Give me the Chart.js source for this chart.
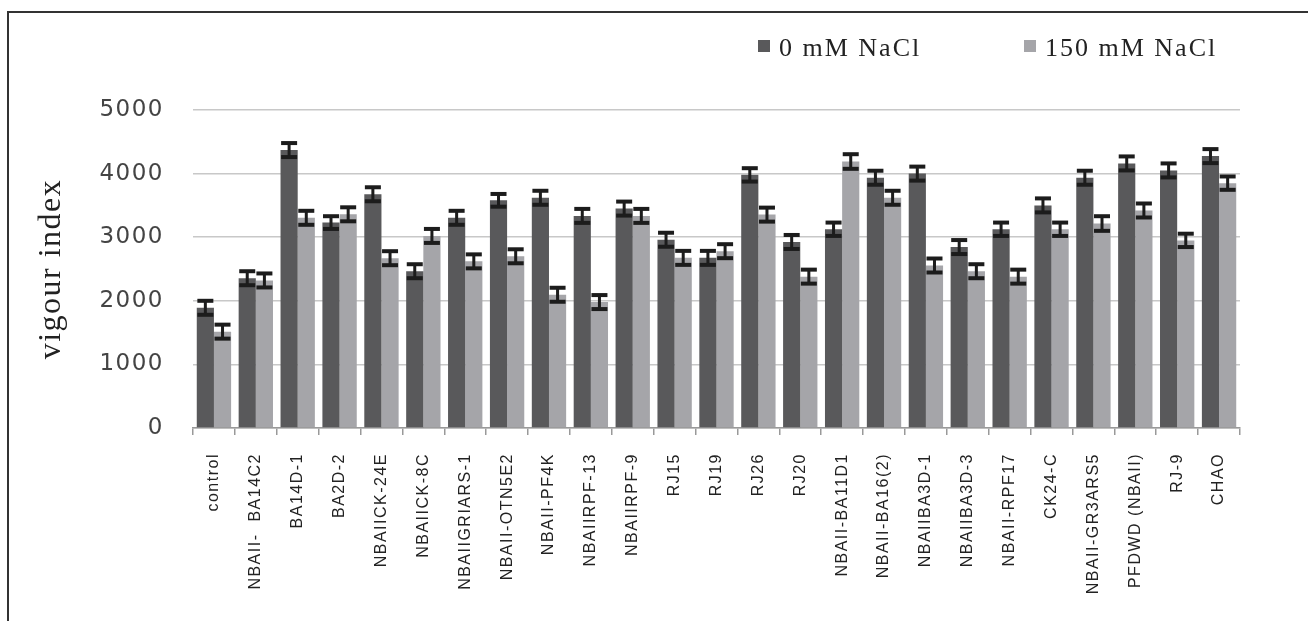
<!DOCTYPE html>
<html>
<head>
<meta charset="utf-8">
<script src="https://cdn.jsdelivr.net/npm/chart.js@4"></script>
<style>
  body { margin: 0; background: #fff; }
  #wrap { position: relative; width: 1308px; height: 621px; overflow: hidden; }
  #frame { position: absolute; left: 7px; top: 11px; width: 1400px; height: 700px;
           border-left: 2px solid #333; border-top: 2px solid #333; }
  canvas { position: absolute; left: 0; top: 0; }
  .leg { position: absolute; top: 33px; font-family: "Liberation Serif"; font-size: 26px;
         letter-spacing: 2px; color: #222; display: flex; align-items: center; white-space: nowrap; }
  .leg i { display: inline-block; width: 12px; height: 12px; margin-right: 9px; position: relative; top: -2px; }
</style>
</head>
<body>
<div id="wrap">
  <div id="frame"></div>
  <canvas id="chart" width="1308" height="621"></canvas>
  <div id="legend"></div>
</div>
<script>
const categories = [
  "control", "NBAII-  BA14C2", "BA14D-1", "BA2D-2", "NBAIICK-24E", "NBAIICK-8C",
  "NBAIIGRIARS-1", "NBAII-OTN5E2", "NBAII-PF4K", "NBAIIRPF-13", "NBAIIRPF-9", "RJ15",
  "RJ19", "RJ26", "RJ20", "NBAII-BA11D1", "NBAII-BA16(2)", "NBAIIBA3D-1", "NBAIIBA3D-3",
  "NBAII-RPF17", "CK24-C", "NBAII-GR3ARS5", "PFDWD (NBAII)", "RJ-9", "CHAO"
];

// vigour index, 0 mM NaCl
const salt0 = [1890, 2355, 4370, 3230, 3675, 2465, 3305, 3580, 3620, 3335, 3450, 2960,
               2675, 3980, 2925, 3125, 3935, 4000, 2845, 3125, 3500, 3935, 4160, 4050, 4275];
const err0 = [110, 110, 110, 100, 110, 110, 110, 100, 110, 110, 110, 110,
              110, 105, 110, 105, 110, 110, 110, 105, 110, 110, 110, 110, 110];

// vigour index, 150 mM NaCl
const salt150 = [1515, 2320, 3305, 3360, 2670, 3020, 2620, 2700, 2095, 1980, 3335, 2675,
                 2780, 3355, 2380, 4190, 3620, 2555, 2465, 2380, 3125, 3215, 3420, 2950, 3850];
const err150 = [110, 110, 110, 110, 110, 110, 110, 110, 110, 110, 110, 110,
                110, 110, 110, 115, 110, 110, 110, 110, 105, 115, 110, 105, 105];

const seriesNames = ["0 mM NaCl", "150 mM NaCl"];
const seriesColors = ["#59595b", "#a5a5a9"];

// canvas text in the original is drawn wide, so space the letters a bit
const letterSpacing = {
  id: "letterSpacing",
  beforeUpdate(chart) { chart.ctx.letterSpacing = "1.5px"; },
  beforeDraw(chart) { chart.ctx.letterSpacing = "1.5px"; }
};

const errorBars = {
  id: "errorBars",
  afterDatasetsDraw(chart) {
    const ctx = chart.ctx;
    const y = chart.scales.y;
    chart.data.datasets.forEach((ds, i) => {
      const meta = chart.getDatasetMeta(i);
      meta.data.forEach((bar, j) => {
        const hi = y.getPixelForValue(ds.data[j] + ds.errors[j]);
        const lo = y.getPixelForValue(ds.data[j] - ds.errors[j]);
        ctx.save();
        ctx.fillStyle = "#1c1c1c";
        ctx.fillRect(bar.x - 1.5, hi, 3, lo - hi);
        ctx.fillRect(bar.x - 8, hi - 2, 16, 4);
        ctx.fillRect(bar.x - 8, lo - 2, 16, 4);
        ctx.restore();
      });
    });
  }
};

const chart = new Chart(document.getElementById("chart"), {
  type: "bar",
  data: {
    labels: categories,
    datasets: [
      { label: seriesNames[0], data: salt0, errors: err0, backgroundColor: seriesColors[0],
        categoryPercentage: 0.82, barPercentage: 1, borderWidth: 0 },
      { label: seriesNames[1], data: salt150, errors: err150, backgroundColor: seriesColors[1],
        categoryPercentage: 0.82, barPercentage: 1, borderWidth: 0 }
    ]
  },
  options: {
    responsive: false,
    animation: false,
    layout: { padding: { left: 0, right: 68, top: 110, bottom: 0 } },
    plugins: {
      legend: { display: false },
      tooltip: { enabled: false }
    },
    scales: {
      x: {
        ticks: {
          minRotation: 90, maxRotation: 90, autoSkip: false, padding: 18, color: "#222",
          font: { family: "Liberation Sans", size: 16 }
        },
        grid: { drawOnChartArea: false, color: "#999", tickLength: 7, lineWidth: 1.5 },
        border: { color: "#999", width: 1.5 },
        afterFit(scale) { scale.height = 193; }
      },
      y: {
        min: 0,
        max: 5000,
        ticks: {
          stepSize: 1000, padding: 29, color: "#444",
          format: { useGrouping: false },
          font: { family: "DejaVu Sans", size: 23 }
        },
        grid: { color: "#c8c8c8", lineWidth: 1.5, drawTicks: false },
        border: { display: false },
        title: {
          display: true, text: "vigour index", color: "#222",
          font: { family: "Liberation Serif", size: 32 },
          padding: { top: 32, bottom: 0 }
        },
        afterFit(scale) { scale.width = 193; }
      }
    }
  },
  plugins: [letterSpacing, errorBars]
});

// html legend like the original, boxes in the top right
const legendLeft = [758, 1024];
const legendEl = document.getElementById("legend");
seriesNames.forEach((name, i) => {
  const item = document.createElement("div");
  item.className = "leg";
  item.style.left = legendLeft[i] + "px";
  item.innerHTML = '<i style="background:' + seriesColors[i] + '"></i><span>' + name + "</span>";
  legendEl.appendChild(item);
});
</script>
</body>
</html>
